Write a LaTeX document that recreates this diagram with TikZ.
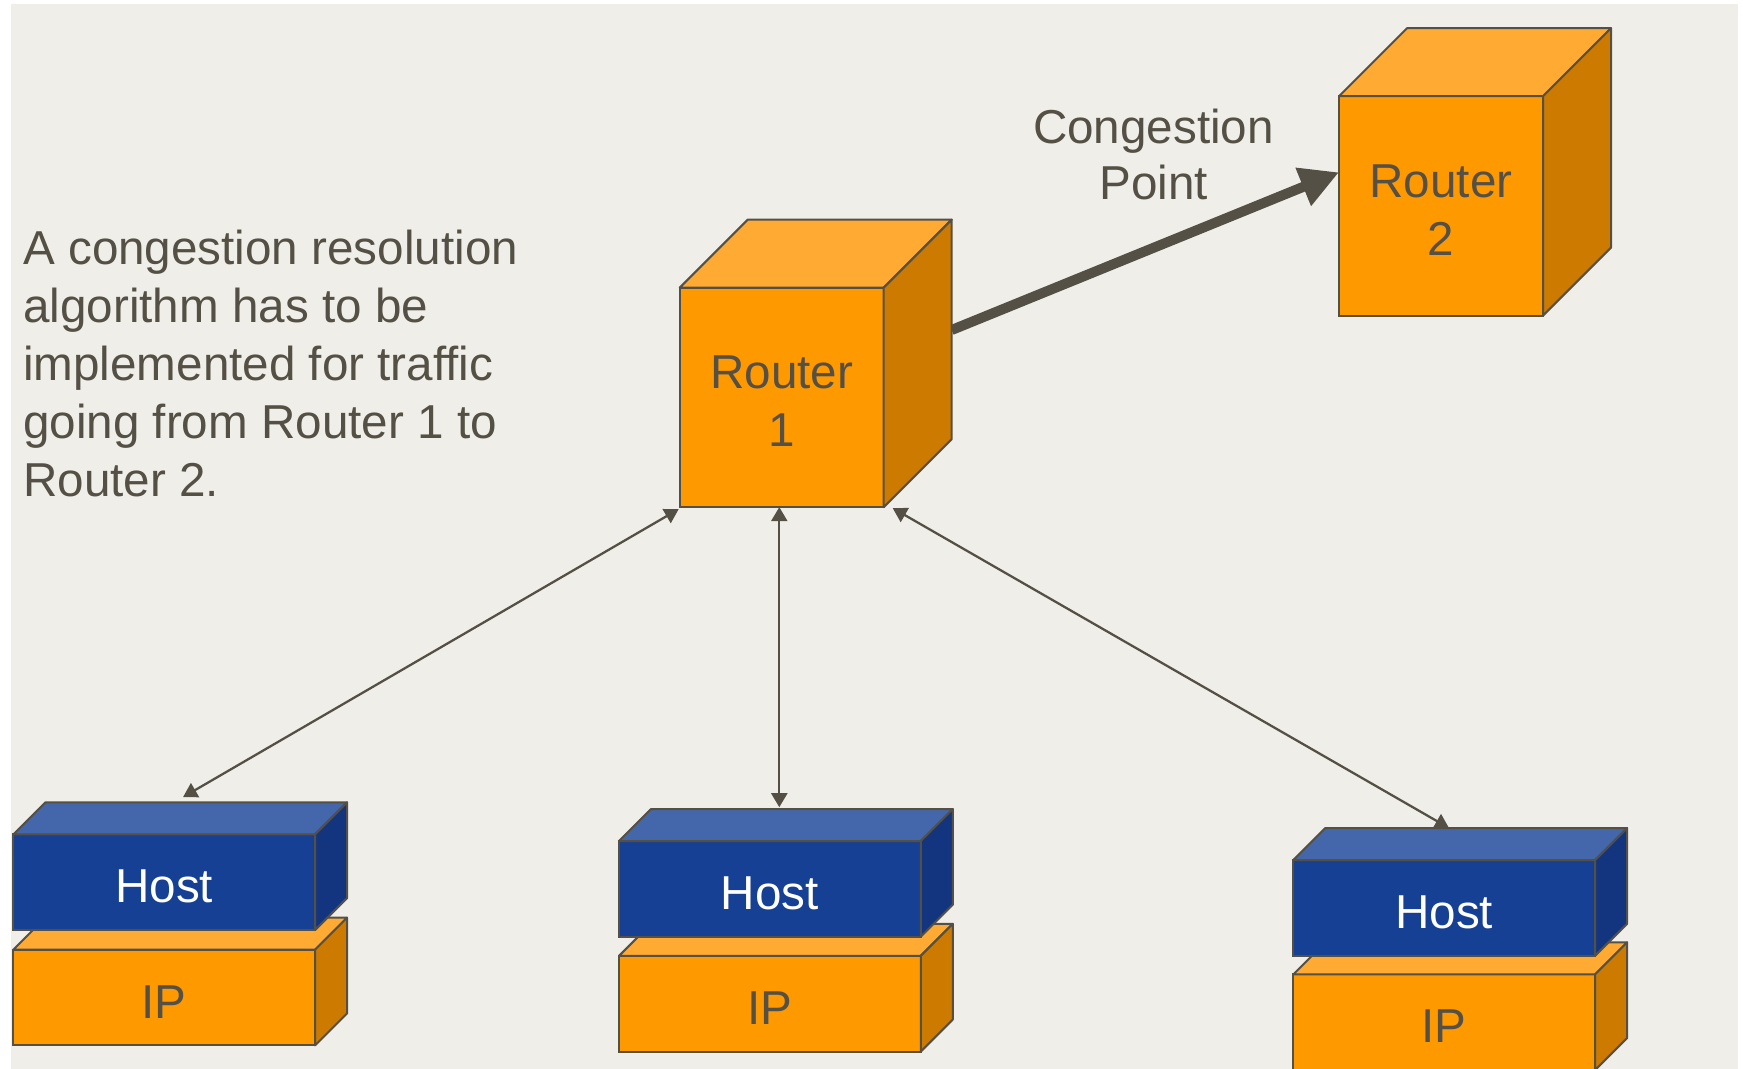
\documentclass[tikz,border=0pt]{standalone}
\usepackage{fontspec}
\setmainfont{Liberation Sans}
\usetikzlibrary{arrows.meta}
\pgfdeclarelayer{back}
\pgfsetlayers{back,main}
\definecolor{bgc}{HTML}{F0EEE9}
\definecolor{outl}{HTML}{545045}
\definecolor{txt}{HTML}{545045}
\definecolor{orf}{HTML}{FF9900}
\definecolor{ort}{HTML}{FFAA33}
\definecolor{ors}{HTML}{CC7A00}
\definecolor{blf}{HTML}{164094}
\definecolor{blt}{HTML}{4466AA}
\definecolor{bls}{HTML}{13357F}
\newcommand\boxfaces[4]{%
  \filldraw[faceline,fill=#3] (#1.north west) -- (#1.north east) -- ([shift={(#2,-#2)}]#1.north east) -- ([shift={(#2,-#2)}]#1.north west) -- cycle;
  \filldraw[faceline,fill=#4] (#1.north east) -- ([shift={(#2,-#2)}]#1.north east) -- ([shift={(#2,-#2)}]#1.south east) -- (#1.south east) -- cycle;}
\newcommand\upstrut{\rule{0pt}{30.8pt}}
\tikzset{
  faceline/.style={draw=outl,line width=1.5pt,line join=round},
  boxbase/.style={draw=outl,line width=1.5pt,inner sep=0pt,outer sep=0pt,align=center,font=\fontsize{35.7}{43.5}\selectfont},
  routerbox/.style={boxbase,fill=orf,text=txt,minimum width=153pt,minimum height=164.6pt},
  hostbox/.style={boxbase,fill=blf,text=white,minimum width=226.3pt,minimum height=71.8pt},
  ipbox/.style={boxbase,fill=orf,text=txt,minimum width=226.3pt,minimum height=71.8pt},
  thinlink/.style={draw=outl,line width=1.7pt,{Triangle[length=10.5pt,width=12pt]}-{Triangle[length=10.5pt,width=12pt]}},
  thicklink/.style={draw=outl,line width=7.5pt,-{Triangle[length=29pt,width=29pt]}},
  label/.style={text=txt,inner sep=0pt,font=\fontsize{35.7}{43.5}\selectfont}
}
\begin{document}
\begin{tikzpicture}[x=0.75pt,y=-0.75pt]
\useasboundingbox (0,0) rectangle (1743,1069);
\begin{pgfonlayer}{back}
\fill[bgc] (11,4) rectangle (1738,1069);
\end{pgfonlayer}

% routers
\node[routerbox] (r1) at (781.7,397.4) {\upstrut Router\\1};
\boxfaces{r1}{68}{ort}{ors}
\node[routerbox] (r2) at (1441,205.9) {\upstrut Router\\2};
\boxfaces{r2}{68}{ort}{ors}

% host stacks
\node[ipbox] (ip1) at (164.2,997.5) {\upstrut IP};
\boxfaces{ip1}{32}{ort}{ors}
\node[hostbox] (h1) at (164.2,882.2) {\upstrut Host};
\boxfaces{h1}{32}{blt}{bls}

\node[ipbox] (ip2) at (769.9,1003.7) {\upstrut IP};
\boxfaces{ip2}{32}{ort}{ors}
\node[hostbox] (h2) at (769.9,888.9) {\upstrut Host};
\boxfaces{h2}{32}{blt}{bls}

\node[ipbox] (ip3) at (1444.2,1022.2) {\upstrut IP};
\boxfaces{ip3}{32}{ort}{ors}
\node[hostbox] (h3) at (1444.2,907.9) {\upstrut Host};
\boxfaces{h3}{32}{blt}{bls}

% texts
\node[label,anchor=north west,align=left] (desc) at (23,229.3)
  {A congestion resolution\\algorithm has to be\\implemented for traffic\\going from Router 1 to\\Router 2.};
\node[label,anchor=north,align=center,font=\fontsize{35.7}{42.5}\selectfont] (cp) at (1153.5,108.3) {Congestion\\Point};

% connectors
\coordinate (h1a) at ([shift={(18.8,-37.2)}]h1.north);
\coordinate (h2a) at ([shift={(9.4,-33.8)}]h2.north);
\coordinate (h3a) at ([shift={(4.8,-32)}]h3.north);
\begin{pgfonlayer}{back}
\draw[thinlink] ([shift={(-1,2)}]r1.south west) -- (h1a);
\draw[thinlink] (h2a |- r1.south) -- (h2a);
\draw[thinlink] ([shift={(9,1)}]r1.south east) -- (h3a);
\draw[thicklink] ([shift={(68,-67.4)}]r1.east) -- ([shift={(0,-33.6)}]r2.west);
\end{pgfonlayer}
\end{tikzpicture}
\end{document}
